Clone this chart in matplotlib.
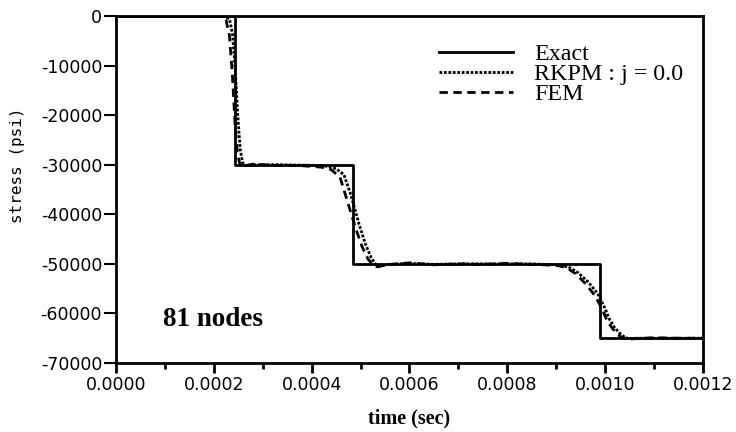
import matplotlib
matplotlib.use("Agg")
import matplotlib.pyplot as plt
from matplotlib.ticker import MultipleLocator, FixedLocator

# ---- data ----
t_exact = [0, 0.000243, 0.000243, 0.000485, 0.000485, 0.00099, 0.00099, 0.0012]
s_exact = [0, 0, -30000, -30000, -50000, -50000, -65000, -65000]

t_fem = [0, 0.000215, 0.000225, 0.000232, 0.000238, 0.000243, 0.000248, 0.000253,
         0.000258, 0.00028, 0.00032, 0.00038, 0.00042, 0.00044, 0.000458, 0.000472,
         0.000489, 0.000503, 0.000515, 0.000526, 0.000535, 0.00055, 0.0006, 0.00065,
         0.0007, 0.00075, 0.0008, 0.00085, 0.0009, 0.00092, 0.00094, 0.00096, 0.00098,
         0.000996, 0.001004, 0.001015, 0.001025, 0.001035, 0.001045, 0.00106, 0.0011,
         0.00115, 0.0012]
s_fem = [0, 0, -800, -4000, -12000, -21000, -27500, -29800,
         -30300, -29900, -30100, -30200, -30500, -31000, -32500, -37000,
         -42500, -46500, -49000, -50300, -50600, -50200, -49800, -50200,
         -50000, -50100, -49900, -50100, -50300, -50700, -52000, -54000, -56500,
         -59500, -61500, -63000, -64200, -64900, -65200, -65100, -64900,
         -65000, -65000]

t_rkpm = [0, 0.000222, 0.000232, 0.000238, 0.000244, 0.000249, 0.000254, 0.000259,
          0.000264, 0.00029, 0.00033, 0.00039, 0.00043, 0.00045, 0.000466, 0.00048,
          0.000497, 0.00051, 0.000522, 0.000532, 0.000541, 0.000556, 0.0006, 0.00065,
          0.0007, 0.00075, 0.0008, 0.00085, 0.0009, 0.000925, 0.000945, 0.000965, 0.000985,
          0.001, 0.001008, 0.001019, 0.00103, 0.00104, 0.00105, 0.001065, 0.0011,
          0.00115, 0.0012]
s_rkpm = [0, 0, -600, -3500, -11000, -20000, -27000, -29600,
          -30200, -30000, -30000, -30100, -30300, -30800, -32000, -36000,
          -42000, -46000, -48800, -50200, -50500, -50100, -49900, -50100,
          -50000, -50000, -50000, -50000, -50200, -50600, -51800, -53600, -56000,
          -59000, -61000, -62800, -64000, -64800, -65100, -65000, -65000,
          -65000, -65000]

x_ticks = [0, 0.0002, 0.0004, 0.0006, 0.0008, 0.0010, 0.0012]
x_labels = ["0.0000", "0.0002", "0.0004", "0.0006", "0.0008", "0.0010", "0.0012"]
y_ticks = [0, -10000, -20000, -30000, -40000, -50000, -60000, -70000]
y_labels = ["0", "-10000", "-20000", "-30000", "-40000", "-50000", "-60000", "-70000"]

plt.rcParams['axes.unicode_minus'] = False

fig = plt.figure(figsize=(7.36, 4.32), dpi=100)
ax = fig.add_axes([0.1576, 0.1597, 0.955 - 0.1576, 0.963 - 0.1597])

ax.plot(t_exact, s_exact, color='black', lw=2.0, label='Exact')
ax.plot(t_rkpm, s_rkpm, color='black', lw=2.0, linestyle=(0, (1, 0.6)), label='RKPM : j = 0.0')
ax.plot(t_fem, s_fem, color='black', lw=2.0, linestyle=(0, (3, 2)), label='FEM')

ax.set_xlim(0, 0.0012)
ax.set_ylim(-70000, 0)

ax.xaxis.set_major_locator(FixedLocator(x_ticks))
ax.set_xticklabels(x_labels)
ax.xaxis.set_minor_locator(MultipleLocator(0.0001))
ax.yaxis.set_major_locator(FixedLocator(y_ticks))
ax.set_yticklabels(y_labels)

ax.tick_params(axis='x', which='major', direction='out', length=7, width=2,
               labelsize=12.5, pad=2)
ax.tick_params(axis='x', which='minor', direction='out', length=4, width=2)
ax.tick_params(axis='y', which='major', direction='out', length=9, width=1.5,
               labelsize=12.5, pad=1)
for lab in ax.get_xticklabels() + ax.get_yticklabels():
    lab.set_fontfamily('DejaVu Sans')

for sp in ax.spines.values():
    sp.set_linewidth(2)

ax.set_ylabel('stress (psi)', fontfamily='DejaVu Sans Mono', fontsize=11.5)
ax.yaxis.set_label_coords(-0.155, 0.571)
ax.set_xlabel('time (sec)', fontfamily='Liberation Serif', fontweight='bold',
              fontsize=14.5, va='top')
ax.xaxis.set_label_coords(0.5, -0.132)

ax.text(0.0000965, -61300, '81 nodes', fontfamily='Liberation Serif',
        fontweight='bold', fontsize=19.5, va='center', ha='left')

leg = ax.legend(loc='upper left', bbox_to_anchor=(0.550, 0.921), frameon=False,
                prop={'family': 'Liberation Serif', 'size': 17.3},
                handlelength=3.08, handletextpad=0.9, labelspacing=-0.08,
                borderaxespad=0, borderpad=0)

fig.savefig('out.png', dpi=100)
